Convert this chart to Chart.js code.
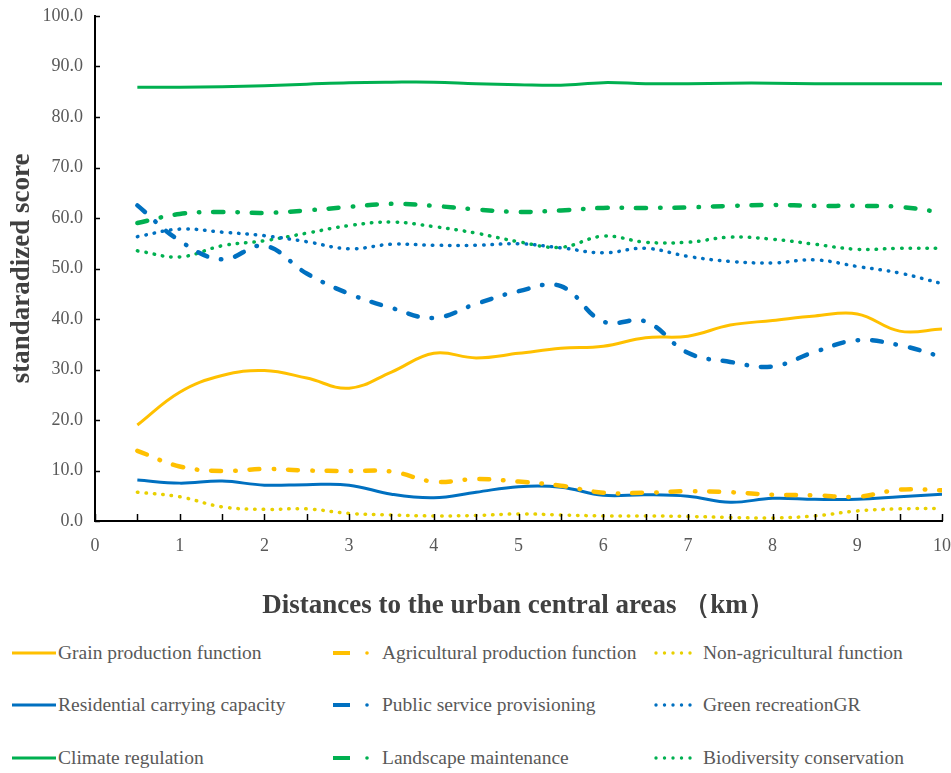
<!DOCTYPE html>
<html>
<head>
<meta charset="utf-8">
<script src="https://cdn.jsdelivr.net/npm/chart.js@4.4.1/dist/chart.umd.min.js"></script>
<style>
  html, body { margin: 0; padding: 0; background: #fff; }
  #wrap { position: relative; width: 951px; height: 773px; overflow: hidden; }
  #chartBox { position: absolute; left: 0; top: 0; width: 951px; height: 630px; }
  .leg { position: absolute; font-family: "Liberation Serif", "Times New Roman", serif; font-size: 19.5px; color: #595959; white-space: nowrap; display: flex; align-items: center; }
  .leg svg { display: block; }
</style>
</head>
<body>
<div id="wrap">
  <div id="chartBox"><canvas id="c" width="951" height="630"></canvas></div>
  <div id="legend"></div>
</div>
<script>
// ---- data ----
const distances = [0.5, 1, 1.5, 2, 2.5, 3, 3.5, 4, 4.5, 5, 5.5, 6, 6.5, 7, 7.5, 8, 8.5, 9, 9.5, 10];
const yTickValues = [0, 10, 20, 30, 40, 50, 60, 70, 80, 90, 100];
const xTickValues = [0, 1, 2, 3, 4, 5, 6, 7, 8, 9, 10];

const grainProduction        = [19.0, 25.5, 28.8, 29.8, 28.3, 26.3, 29.5, 33.2, 32.3, 33.2, 34.2, 34.6, 36.3, 36.6, 38.8, 39.7, 40.6, 41.0, 37.6, 38.0];
const agriculturalProduction = [13.9, 10.8, 9.9, 10.3, 10.0, 9.9, 9.8, 7.8, 8.3, 7.8, 7.0, 5.6, 5.6, 5.9, 5.7, 5.2, 5.1, 4.8, 6.2, 6.1];
const nonAgricultural        = [5.7, 4.8, 2.8, 2.3, 2.4, 1.5, 1.2, 1.0, 1.1, 1.4, 1.2, 1.0, 1.0, 0.9, 0.7, 0.6, 1.0, 2.0, 2.4, 2.5];
const residentialCarrying    = [8.1, 7.5, 7.9, 7.1, 7.2, 7.1, 5.3, 4.6, 5.7, 6.8, 6.7, 5.1, 5.2, 4.9, 3.7, 4.5, 4.3, 4.3, 4.8, 5.3];
const publicService          = [62.5, 55.5, 51.8, 54.5, 49.0, 45.0, 42.2, 40.2, 43.0, 45.5, 46.5, 39.5, 39.5, 33.3, 31.5, 30.6, 33.5, 35.8, 34.8, 32.5];
const greenRecreation        = [56.3, 57.8, 57.2, 56.5, 55.3, 53.9, 54.8, 54.6, 54.6, 54.9, 54.1, 53.1, 54.0, 52.4, 51.4, 51.1, 51.7, 50.4, 49.1, 47.0];
const climateRegulation      = [85.9, 85.9, 86.0, 86.2, 86.5, 86.8, 86.9, 86.9, 86.6, 86.4, 86.3, 86.8, 86.6, 86.6, 86.7, 86.7, 86.6, 86.6, 86.6, 86.6];
const landscapeMaintenance   = [59.0, 60.8, 61.2, 61.0, 61.5, 62.2, 62.8, 62.4, 61.7, 61.2, 61.5, 62.0, 62.0, 62.1, 62.4, 62.6, 62.4, 62.4, 62.2, 61.1];
const biodiversity           = [53.5, 52.3, 54.5, 55.5, 57.0, 58.5, 59.2, 58.3, 57.0, 55.3, 54.2, 56.4, 55.2, 55.2, 56.2, 55.8, 54.8, 53.8, 54.0, 54.0];

const seriesNames = [
  'Grain production function', 'Agricultural production function', 'Non-agricultural function',
  'Residential carrying capacity', 'Public service provisioning', 'Green recreationGR',
  'Climate regulation', 'Landscape maintenance', 'Biodiversity conservation'
];
const seriesValues = [
  grainProduction, agriculturalProduction, nonAgricultural,
  residentialCarrying, publicService, greenRecreation,
  climateRegulation, landscapeMaintenance, biodiversity
];

// ---- styles ----
const ORANGE = '#FFC000', YELLOW = '#E8D000', BLUE = '#0070C0', GREEN = '#00B050';
const seriesColors = [ORANGE, ORANGE, YELLOW, BLUE, BLUE, BLUE, GREEN, GREEN, GREEN];
const seriesKinds  = ['solid', 'dashdot', 'dot', 'solid', 'dashdot', 'dot', 'solid', 'dashdot', 'dot'];
const kindStyle = {
  solid:   { width: 3,   dash: [],               cap: 'butt' },
  dashdot: { width: 4.5, dash: [10, 14, 0.5, 14], cap: 'round' },
  dot:     { width: 3.5, dash: [0.5, 8],         cap: 'round' }
};

const datasets = seriesNames.map((name, i) => {
  const st = kindStyle[seriesKinds[i]];
  return {
    label: name,
    data: distances.map((d, j) => ({ x: d, y: seriesValues[i][j] })),
    borderColor: seriesColors[i],
    backgroundColor: seriesColors[i],
    borderWidth: st.width,
    borderDash: st.dash,
    borderCapStyle: st.cap,
    pointRadius: 0,
    tension: 0.4,
    fill: false
  };
});

// inner tick marks drawn at scale positions
const innerTicks = {
  id: 'innerTicks',
  afterDraw(chart) {
    const { ctx, scales: { x, y } } = chart;
    ctx.save();
    ctx.strokeStyle = '#000';
    ctx.lineWidth = 1.5;
    const yPix0 = y.getPixelForValue(0);
    for (let v = 0; v <= 10.0001; v += 0.5) {
      const px = Math.round(x.getPixelForValue(v)) + 0.5;
      ctx.beginPath(); ctx.moveTo(px, yPix0); ctx.lineTo(px, yPix0 - 7); ctx.stroke();
    }
    const xPix0 = x.getPixelForValue(0);
    yTickValues.forEach(v => {
      const py = Math.round(y.getPixelForValue(v)) + 0.5;
      ctx.beginPath(); ctx.moveTo(xPix0, py); ctx.lineTo(xPix0 + 5, py); ctx.stroke();
    });
    ctx.restore();
  }
};

const serif = '"Liberation Serif", "Times New Roman", serif';

new Chart(document.getElementById('c'), {
  type: 'line',
  data: { datasets },
  plugins: [innerTicks],
  options: {
    responsive: false,
    animation: false,
    layout: { padding: { top: 16, right: 9, bottom: 0, left: 0 } },
    plugins: { legend: { display: false }, tooltip: { enabled: false } },
    scales: {
      x: {
        type: 'linear', min: 0, max: 10,
        afterFit(s) { s.height = 109; s.paddingLeft = 0; s.paddingRight = 0; },
        afterBuildTicks(s) { s.ticks = xTickValues.map(v => ({ value: v })); },
        grid: { display: false, drawTicks: false },
        border: { display: true, color: '#000', width: 2 },
        ticks: { color: '#595959', font: { family: serif, size: 18 }, padding: 14, maxRotation: 0, autoSkip: false,
                 callback: v => String(v) },
        title: { display: true, text: 'Distances to the urban central areas （km）', color: '#404040',
                 font: { family: serif, size: 27, weight: 'bold' }, padding: { top: 0, bottom: 8 } }
      },
      y: {
        min: 0, max: 100,
        afterFit(s) { s.width = 95; s.paddingTop = 0; s.paddingBottom = 0; },
        afterBuildTicks(s) { s.ticks = yTickValues.map(v => ({ value: v })); },
        grid: { display: false, drawTicks: false },
        border: { display: true, color: '#000', width: 2 },
        ticks: { color: '#595959', font: { family: serif, size: 18 }, padding: 12,
                 callback: v => Number(v).toFixed(1) },
        title: { display: true, text: 'standaradized score', color: '#404040',
                 font: { family: serif, size: 27, weight: 'bold' }, padding: { top: 6, bottom: 0 } }
      }
    }
  }
});

// ---- HTML legend in 3 columns ----
function symbolSvg(kind, color) {
  const w = 48, h = 10, cy = 5;
  let inner = '';
  if (kind === 'solid') {
    inner = `<line x1="2" y1="${cy}" x2="46" y2="${cy}" stroke="${color}" stroke-width="3"/>`;
  } else if (kind === 'dashdot') {
    inner = `<line x1="3" y1="${cy}" x2="20" y2="${cy}" stroke="${color}" stroke-width="4"/>` +
            `<circle cx="37" cy="${cy}" r="1.8" fill="${color}"/>`;
  } else {
    for (let i = 0; i < 5; i++) inner += `<circle cx="${4 + i * 8.5}" cy="${cy}" r="1.7" fill="${color}"/>`;
  }
  return `<svg width="${w}" height="${h}" viewBox="0 0 ${w} ${h}">${inner}</svg>`;
}
const legCols = [{ sx: 10, tx: 58 }, { sx: 330, tx: 382 }, { sx: 652, tx: 703 }];
const legRows = [653, 705, 758];
const legendEl = document.getElementById('legend');
seriesNames.forEach((name, i) => {
  const col = legCols[i % 3], row = legRows[Math.floor(i / 3)];
  const sym = document.createElement('div');
  sym.className = 'leg';
  sym.style.left = col.sx + 'px'; sym.style.top = (row - 5) + 'px';
  sym.innerHTML = symbolSvg(seriesKinds[i], seriesColors[i]);
  legendEl.appendChild(sym);
  const txt = document.createElement('div');
  txt.className = 'leg';
  txt.style.left = col.tx + 'px'; txt.style.top = (row - 12) + 'px'; txt.style.height = '24px';
  txt.textContent = name;
  legendEl.appendChild(txt);
});
</script>
</body>
</html>
